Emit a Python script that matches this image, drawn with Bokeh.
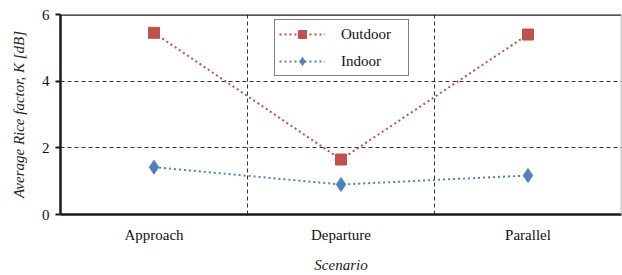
from bokeh.plotting import figure
from bokeh.models import FixedTicker, Legend, LegendItem, Span, Range1d
from bokeh.embed import file_html
from bokeh.resources import INLINE

categories = ["Approach", "Departure", "Parallel"]
outdoor = [5.45, 1.65, 5.4]
indoor = [1.42, 0.9, 1.17]

xs = [i + 0.5 for i in range(len(categories))]

p = figure(width=622, height=275, output_backend="svg", toolbar_location=None,
           x_range=Range1d(0, 3), y_range=Range1d(0, 6),
           min_border_left=60, min_border_right=1, min_border_top=14, min_border_bottom=40)
p.outline_line_color = None
p.background_fill_color = "white"

FONT = "Liberation Serif"
p.xaxis.ticker = FixedTicker(ticks=xs, minor_ticks=[0, 1, 2, 3])
p.xaxis.major_label_overrides = {x: c for x, c in zip(xs, categories)}
p.xaxis.major_tick_out = 0
p.xaxis.major_tick_in = 0
p.xaxis.minor_tick_out = 4
p.xaxis.minor_tick_in = 0
p.yaxis.ticker = FixedTicker(ticks=[0, 2, 4, 6])
p.yaxis.minor_tick_line_color = None
p.yaxis.major_tick_out = 5
p.yaxis.major_tick_in = 0
for ax in (p.xaxis, p.yaxis):
    ax.axis_line_width = 2.5
    ax.axis_line_color = "#1a1a1a"
    ax.major_tick_line_width = 2
    ax.minor_tick_line_width = 2
    ax.major_tick_line_color = "#1a1a1a"
    ax.minor_tick_line_color = "#1a1a1a" if ax is p.xaxis else None
    ax.major_label_text_font = FONT
    ax.major_label_text_font_size = "15px"
    ax.major_label_text_color = "#111111"
    ax.axis_label_text_font = FONT
    ax.axis_label_text_font_size = "15px"
    ax.axis_label_text_font_style = "italic"
    ax.axis_label_text_color = "#222222"
p.xaxis.major_label_standoff = 8
p.xaxis.axis_label = "Scenario"
p.xaxis.axis_label_standoff = 11
p.yaxis.axis_label = "Average Rice factor, K [dB]"
p.yaxis.axis_label_standoff = 12
p.yaxis.major_label_standoff = 6

p.xgrid.ticker = FixedTicker(ticks=[1, 2])
p.ygrid.ticker = FixedTicker(ticks=[2, 4])
for g in (p.xgrid, p.ygrid):
    g.grid_line_color = "#333333"
    g.grid_line_dash = "4 3"
    g.grid_line_width = 1

p.add_layout(Span(location=6, dimension="width", line_color="#1a1a1a", line_width=2.5))
p.add_layout(Span(location=3, dimension="height", line_color="#999999", line_width=1.5))

red = "#C0504D"
blue = "#4F81BD"
l1 = p.line(xs, outdoor, line_color=red, line_width=2, line_dash="2 3")
m1 = p.scatter(xs, outdoor, marker="square", size=11, fill_color=red, line_color=red)
l2 = p.line(xs, indoor, line_color=blue, line_width=2, line_dash="2 3")
m2 = p.scatter(xs, indoor, marker="diamond", size=14, fill_color=blue, line_color=blue)

legend = Legend(items=[LegendItem(label="Outdoor", renderers=[l1, m1]),
                       LegendItem(label="Indoor", renderers=[l2, m2])],
                location=(214, 138))
legend.border_line_color = "black"
legend.border_line_width = 1.5
legend.label_text_font = FONT
legend.label_text_font_size = "15px"
legend.label_text_color = "#111111"
legend.glyph_width = 46
legend.label_standoff = 16
legend.label_width = 63
legend.spacing = 7
legend.padding = 4
legend.margin = 0
p.add_layout(legend)

open("out.html", "w").write(file_html(p, INLINE))
